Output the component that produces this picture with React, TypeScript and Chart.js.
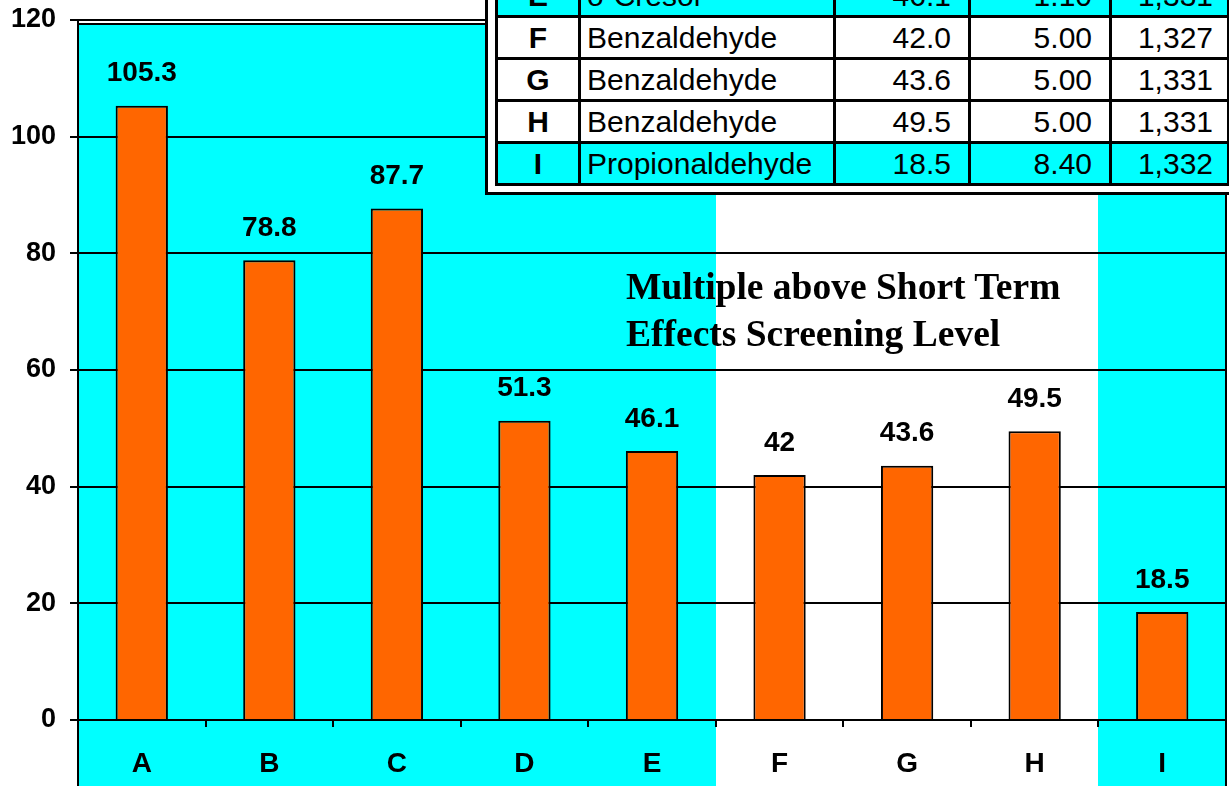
import React, { useEffect, useRef } from "react";
import { Chart, registerables } from "chart.js";

Chart.register(...registerables);

// ---- chart data ----
const categories = ["A", "B", "C", "D", "E", "F", "G", "H", "I"];
const multiples = [105.3, 78.8, 87.7, 51.3, 46.1, 42, 43.6, 49.5, 18.5];
const shadedCategories = ["A", "B", "C", "D", "E", "I"];
const yMin = 0;
const yMax = 120;
const yStep = 20;

// ---- inset table data ----
const tableIds = ["E", "F", "G", "H", "I"];
const tableChemicals = ["o-Cresol", "Benzaldehyde", "Benzaldehyde", "Benzaldehyde", "Propionaldehyde"];
const tableMultiples = ["46.1", "42.0", "43.6", "49.5", "18.5"];
const tableCol4 = ["1.10", "5.00", "5.00", "5.00", "8.40"];
const tableCol5 = ["1,331", "1,327", "1,331", "1,331", "1,332"];

const noteLines = ["Multiple above Short Term", "Effects Screening Level"];

const CYAN = "#00FFFF";
const ORANGE = "#FF6600";
const SANS = "'Liberation Sans', Arial, Helvetica, sans-serif";
const SERIF = "'Liberation Serif', 'Times New Roman', serif";

export default function App() {
  const canvasRef = useRef<HTMLCanvasElement | null>(null);

  useEffect(() => {
    document.body.style.margin = "0";
    document.body.style.overflow = "hidden";
    const canvas = canvasRef.current;
    if (!canvas) return;

    const backgroundPlugin = {
      id: "bgBands",
      beforeDraw(chart: any) {
        const { ctx, chartArea, scales } = chart;
        const x = scales.x;
        const W = chart.width;
        const H = chart.height;
        ctx.save();
        ctx.fillStyle = "#ffffff";
        ctx.fillRect(0, 0, W, H);
        const half = (x.getPixelForValue(1) - x.getPixelForValue(0)) / 2;
        let i = 0;
        while (i < categories.length) {
          if (!shadedCategories.includes(categories[i])) {
            i++;
            continue;
          }
          let j = i;
          while (j + 1 < categories.length && shadedCategories.includes(categories[j + 1])) j++;
          const x0 = Math.round(x.getPixelForValue(i) - half);
          const x1 = Math.round(x.getPixelForValue(j) + half);
          ctx.fillStyle = CYAN;
          ctx.fillRect(x0, chartArea.top + 4, x1 - x0, H - chartArea.top - 4);
          i = j + 1;
        }
        ctx.restore();
      },
      afterDraw(chart: any) {
        const { ctx, chartArea } = chart;
        const H = chart.height;
        ctx.save();
        ctx.strokeStyle = "#000";
        ctx.lineWidth = 2;
        ctx.beginPath();
        ctx.moveTo(chartArea.left, chartArea.top + 4);
        ctx.lineTo(chartArea.right, chartArea.top + 4);
        ctx.moveTo(chartArea.left, chartArea.top);
        ctx.lineTo(chartArea.left, H);
        ctx.moveTo(chartArea.right, chartArea.top + 4);
        ctx.lineTo(chartArea.right, H);
        ctx.stroke();
        ctx.restore();
      },
    };

    const labelPlugin = {
      id: "barValues",
      afterDatasetsDraw(chart: any) {
        const { ctx } = chart;
        const meta = chart.getDatasetMeta(0);
        ctx.save();
        ctx.fillStyle = "#000";
        ctx.font = `bold 28px ${SANS}`;
        ctx.textAlign = "center";
        ctx.textBaseline = "bottom";
        meta.data.forEach((bar: any, i: number) => {
          ctx.fillText(String(multiples[i]), bar.x, bar.y - 18);
        });
        ctx.restore();
      },
    };

    const chart = new Chart(canvas, {
      type: "bar",
      data: {
        labels: categories,
        datasets: [
          {
            data: multiples,
            backgroundColor: ORANGE,
            borderColor: "#000",
            borderWidth: 2,
            barPercentage: 0.41,
            categoryPercentage: 1,
          },
        ],
      },
      options: {
        animation: false,
        responsive: false,
        devicePixelRatio: 1,
        layout: { padding: { top: 20, right: 3, left: 0, bottom: 0 } },
        plugins: {
          legend: { display: false },
          tooltip: { enabled: false },
        },
        scales: {
          x: {
            grid: {
              drawOnChartArea: false,
              drawTicks: true,
              tickLength: 7,
              color: "#000",
              lineWidth: 2,
              offset: true,
            },
            border: { display: true, color: "#000", width: 2 },
            ticks: {
              color: "#000",
              font: { family: SANS, size: 28, weight: "bold" },
              padding: 20,
            },
            afterFit: (s: any) => {
              s.height = 66;
              s.paddingLeft = 0;
              s.paddingRight = 0;
            },
          },
          y: {
            min: yMin,
            max: yMax,
            ticks: {
              stepSize: yStep,
              color: "#000",
              font: { family: SANS, size: 27, weight: "bold" },
              padding: 14,
            },
            grid: { color: "#000", lineWidth: 2, tickLength: 8 },
            border: { display: true, color: "#000", width: 2 },
            afterFit: (s: any) => {
              s.width = 78;
              s.paddingTop = 0;
              s.paddingBottom = 0;
            },
          },
        },
      } as any,
      plugins: [backgroundPlugin, labelPlugin],
    });

    return () => chart.destroy();
  }, []);

  const colWidths = [83, 255, 135, 141, 118];
  const cellBase: React.CSSProperties = {
    border: "3px solid #000",
    padding: 0,
    height: 36,
    fontFamily: SANS,
    fontSize: 30,
    lineHeight: "36px",
    color: "#000",
    whiteSpace: "nowrap",
    overflow: "hidden",
  };

  return (
    <div style={{ position: "relative", width: 1229, height: 786, overflow: "hidden", background: "#fff" }}>
      <canvas ref={canvasRef} width={1229} height={786} style={{ position: "absolute", left: 0, top: 0, width: 1229, height: 786 }} />
      <div
        style={{
          position: "absolute",
          left: 626,
          top: 263,
          fontFamily: SERIF,
          fontWeight: "bold",
          fontSize: 37.5,
          lineHeight: "47px",
          color: "#000",
          whiteSpace: "nowrap",
        }}
      >
        {noteLines.map((l, i) => (
          <div key={i}>{l}</div>
        ))}
      </div>
      <div
        style={{
          position: "absolute",
          left: 485,
          top: -40,
          width: 760,
          height: 229,
          border: "3px solid #000",
          background: "#fff",
        }}
      />
      <table
        style={{
          position: "absolute",
          left: 495,
          top: -27,
          width: 733,
          borderCollapse: "collapse",
          tableLayout: "fixed",
        }}
      >
        <colgroup>
          {colWidths.map((w, i) => (
            <col key={i} style={{ width: w }} />
          ))}
        </colgroup>
        <tbody>
          {tableIds.map((id, r) => {
            const bg = shadedCategories.includes(id) ? CYAN : "#fff";
            return (
              <tr key={id} style={{ height: 42, background: bg }}>
                <td style={{ ...cellBase, textAlign: "center", fontWeight: "bold" }}>{id}</td>
                <td style={{ ...cellBase, textAlign: "left", paddingLeft: 6 }}>{tableChemicals[r]}</td>
                <td style={{ ...cellBase, textAlign: "right", paddingRight: 17 }}>{tableMultiples[r]}</td>
                <td style={{ ...cellBase, textAlign: "right", paddingRight: 17 }}>{tableCol4[r]}</td>
                <td style={{ ...cellBase, textAlign: "right", paddingRight: 14 }}>{tableCol5[r]}</td>
              </tr>
            );
          })}
        </tbody>
      </table>
    </div>
  );
}
